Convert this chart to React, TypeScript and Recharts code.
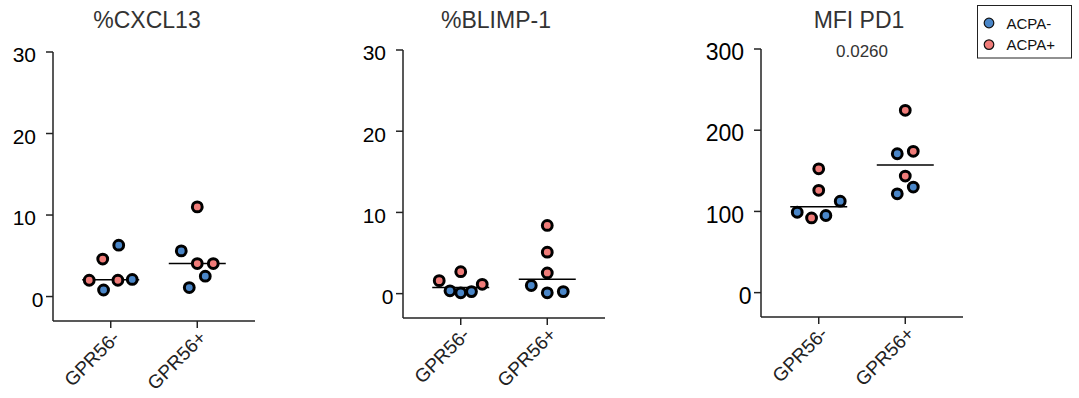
import { ScatterChart, Scatter, XAxis, YAxis, ReferenceLine } from "recharts"

const groups = ["GPR56-", "GPR56+"]
const seriesNames = ["ACPA-", "ACPA+"]
const seriesColors = ["#4a86c8", "#f07c79"]

// values per group: [GPR56-, GPR56+]
const cxcl13AcpaNeg = [[6.3, 2.1, 0.8], [5.6, 2.5, 1.1]]
const cxcl13AcpaPos = [[4.6, 2.0, 2.0], [11.0, 4.05, 4.05]]
const blimp1AcpaNeg = [[0.35, 0.1, 0.25], [1.0, 0.1, 0.25]]
const blimp1AcpaPos = [[1.6, 2.7, 1.15], [8.4, 5.1, 2.55]]
const pd1AcpaNeg = [[112.6, 99, 95], [171, 130, 121.7]]
const pd1AcpaPos = [[152.5, 126, 92], [224.5, 174, 143.5]]

const pctTicks = [0, 10, 20, 30]
const mfiTicks = [0, 100, 200, 300]
const pd1PValue = "0.0260"

const FONT = "'Liberation Sans', Arial, sans-serif"
const CHART_H = 398
const PLOT_W = 202
const RIGHT_PAD = 15

// simple row-based beeswarm: points close in pixel height share a row and are spread sideways
function swarm(values: number[], pxPerUnit: number): number[] {
  const order = values.map((v, i) => i).sort((a, b) => values[a] - values[b])
  const rows: number[][] = []
  let start = -Infinity
  order.forEach((i) => {
    if ((values[i] - start) * pxPerUnit > 17.2 || rows.length === 0) {
      rows.push([i])
      start = values[i]
    } else {
      rows[rows.length - 1].push(i)
    }
  })
  const offs = new Array(values.length).fill(0)
  rows.forEach((row) => {
    const n = row.length
    if (n < 2) return
    const d = Math.min(16, 43 / (n - 1))
    row.forEach((idx, k) => {
      if (n % 2 === 1) {
        offs[idx] = k === 0 ? 0 : (k % 2 === 1 ? 1 : -1) * Math.ceil(k / 2) * d
      } else {
        offs[idx] = (k % 2 === 0 ? -1 : 1) * (Math.floor(k / 2) + 0.5) * d
      }
    })
  })
  return offs
}

function median(values: number[]) {
  const s = [...values].sort((a, b) => a - b)
  const m = Math.floor(s.length / 2)
  return s.length % 2 ? s[m] : (s[m - 1] + s[m]) / 2
}

const XTick = (props: any) => {
  const { x, y, payload } = props
  return (
    <text
      x={0}
      y={0}
      transform={`translate(${x + 10},${y + 9}) rotate(-45)`}
      textAnchor="end"
      fontSize={19}
      fontFamily={FONT}
      fill="#222"
    >
      {groups[payload.value]}
    </text>
  )
}

const makeYTick = (fontSize: number) => (props: any) => {
  const { x, y, payload } = props
  // the zero label sits a bit closer to the axis in the original
  const shift = payload.value === 0 ? 7.5 : 0
  return (
    <text x={x + shift} y={y + 3 + fontSize * 0.355} textAnchor="end" fontSize={fontSize} fontFamily={FONT} fill="#000">
      {payload.value}
    </text>
  )
}

const makeDot = (color: string) => (props: any) => (
  <circle
    cx={props.cx + (props.payload?.dx ?? 0)}
    cy={props.cy}
    r={4.9}
    fill={color}
    stroke="#000"
    strokeWidth={3}
  />
)

const MedianBar = (props: any) => (
  <line x1={props.cx - 28.5} x2={props.cx + 28.5} y1={props.cy} y2={props.cy} stroke="#000" strokeWidth={1.5} />
)

function Panel(p: {
  title: string
  neg: number[][]
  pos: number[][]
  ticks: number[]
  domain: [number, number]
  axisX: number
  top: number
  bottom: number
  titleX: number
  tickFont: number
  pValue?: string
}) {
  const yW = 72
  const chartW = yW + PLOT_W + RIGHT_PAD
  const pxPerUnit = (p.bottom - p.top) / (p.domain[1] - p.domain[0])
  const pts: any[][] = [[], []]
  const medians: any[] = []
  groups.forEach((g, gi) => {
    const items = [
      ...p.neg[gi].map((v) => ({ v, s: 0 })),
      ...p.pos[gi].map((v) => ({ v, s: 1 })),
    ]
    const offs = swarm(items.map((d) => d.v), pxPerUnit)
    items.forEach((d, i) => pts[d.s].push({ x: gi, y: d.v, dx: offs[i] }))
    medians.push({ x: gi, y: median(items.map((d) => d.v)) })
  })
  const axisStyle = { stroke: "#222", strokeWidth: 1.5 }

  return (
    <>
      <div
        style={{
          position: "absolute",
          left: p.titleX - 100,
          top: 9,
          width: 200,
          textAlign: "center",
          fontFamily: FONT,
          fontSize: 23,
          lineHeight: "23px",
          color: "#333",
        }}
      >
        {p.title}
      </div>
      <div style={{ position: "absolute", left: p.axisX - yW, top: 0 }}>
        <ScatterChart
          width={chartW}
          height={CHART_H}
          margin={{ top: p.top, right: RIGHT_PAD, bottom: 0, left: 0 }}
        >
          <XAxis
            type="number"
            dataKey="x"
            domain={[-0.667, 1.667]}
            ticks={[0, 1]}
            height={CHART_H - p.bottom}
            tickSize={7}
            axisLine={axisStyle}
            tickLine={axisStyle}
            tick={<XTick />}
            interval={0}
          />
          <YAxis
            type="number"
            dataKey="y"
            domain={p.domain}
            ticks={p.ticks}
            width={yW}
            tickSize={7}
            tickMargin={10}
            axisLine={axisStyle}
            tickLine={axisStyle}
            tick={makeYTick(p.tickFont)}
            interval={0}
          />
          <Scatter data={medians} shape={MedianBar} isAnimationActive={false} />
          {pts.map((d, s) => (
            <Scatter
              key={seriesNames[s]}
              name={seriesNames[s]}
              data={d}
              fill={seriesColors[s]}
              shape={makeDot(seriesColors[s])}
              isAnimationActive={false}
            />
          ))}
          {p.pValue && (
            <ReferenceLine
              segment={[
                { x: 0, y: p.domain[1] },
                { x: 1, y: p.domain[1] },
              ]}
              stroke="none"
              label={{ value: p.pValue, position: "center", fill: "#333", fontSize: 17, fontFamily: FONT, dy: 1.5 }}
            />
          )}
        </ScatterChart>
      </div>
    </>
  )
}

function LegendBox() {
  return (
    <svg width={96} height={54} style={{ position: "absolute", left: 976.5, top: 4.5 }}>
      <rect x={0.5} y={0.5} width={94} height={52.5} fill="#fff" stroke="#222" strokeWidth={1} />
      {seriesNames.map((n, i) => (
        <g key={n}>
          <circle cx={12} cy={18 + i * 21.6} r={4.8} fill={seriesColors[i]} stroke="#111" strokeWidth={1.2} />
          <text x={29.5} y={23.8 + i * 21.6} fontSize={15} fontFamily={FONT} fill="#111">
            {n}
          </text>
        </g>
      ))}
    </svg>
  )
}

export default function App() {
  return (
    <div style={{ position: "absolute", left: 0, top: 0, width: 1079, height: 398, background: "#fff", overflow: "hidden" }}>
      <Panel title="%CXCL13" neg={cxcl13AcpaNeg} pos={cxcl13AcpaPos} ticks={pctTicks} domain={[-3, 30]} axisX={53} top={52} bottom={321} titleX={147} tickFont={21} />
      <Panel title="%BLIMP-1" neg={blimp1AcpaNeg} pos={blimp1AcpaPos} ticks={pctTicks} domain={[-3, 30]} axisX={403} top={50} bottom={318} titleX={496} tickFont={21} />
      <Panel title="MFI PD1" neg={pd1AcpaNeg} pos={pd1AcpaPos} ticks={mfiTicks} domain={[-30, 300]} axisX={761} top={49} bottom={317} titleX={859} tickFont={23} pValue={pd1PValue} />
      <LegendBox />
    </div>
  )
}
